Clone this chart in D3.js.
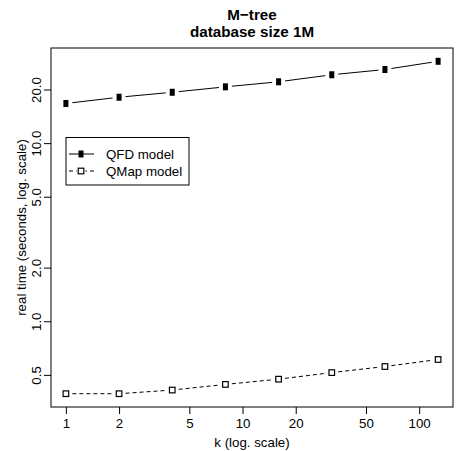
<!DOCTYPE html>
<html><head><meta charset="utf-8">
<script src="https://cdn.jsdelivr.net/npm/d3@7"></script>
<style>
html,body{margin:0;padding:0;background:#fff;}
svg{display:block;font-family:"Liberation Sans",Arial,Helvetica,sans-serif;}
</style></head>
<body>
<svg id="chart" width="459" height="451"></svg>
<script>
const kValues = [1, 2, 4, 8, 16, 32, 64, 128];
const qfdValues = [16.7, 18.1, 19.3, 20.7, 22.1, 24.2, 25.9, 28.8];
const qmapValues = [0.392, 0.392, 0.411, 0.442, 0.473, 0.515, 0.557, 0.610];
const xTicks = [1, 2, 5, 10, 20, 50, 100];
const yTicks = [0.5, 1, 2, 5, 10, 20];
const yTickLabels = ["0.5", "1.0", "2.0", "5.0", "10.0", "20.0"];
const seriesNames = ["QFD model", "QMap model"];
const titleLines = ["M\u2212tree", "database size 1M"];
const xTitle = "k (log. scale)";
const yTitle = "real time (seconds, log. scale)";

const svg = d3.select("#chart");
const L = 51, R = 453, T = 48, B = 407;
const FS = 13.3;

function extLog(lo, hi) {
  const a = Math.log10(lo), b = Math.log10(hi), d = (b - a) * 0.04;
  return [Math.pow(10, a - d), Math.pow(10, b + d)];
}
const x = d3.scaleLog().domain(extLog(d3.min(kValues), d3.max(kValues))).range([L, R]);
const allY = qfdValues.concat(qmapValues);
const y = d3.scaleLog().domain(extLog(d3.min(allY), d3.max(allY))).range([B, T]);

// box
svg.append("rect").attr("x", L).attr("y", T).attr("width", R - L).attr("height", B - T)
  .attr("fill", "none").attr("stroke", "#000").attr("stroke-width", 1);

// x axis
const xAxis = d3.axisBottom(x).tickValues(xTicks).tickFormat(d3.format("d")).tickSize(7);
const gx = svg.append("g").attr("transform", `translate(0,${B})`).call(xAxis);
gx.select(".domain").remove();
gx.selectAll("text").attr("font-size", FS).attr("fill", "#000").attr("font-family", "Liberation Sans, Arial, sans-serif")
  .attr("y", 20.5).attr("dy", null);
gx.selectAll("line").attr("stroke", "#000");

// y axis
const yAxis = d3.axisLeft(y).tickValues(yTicks).tickFormat((d, i) => yTickLabels[i]).tickSize(7);
const gy = svg.append("g").attr("transform", `translate(${L},0)`).call(yAxis);
gy.select(".domain").remove();
gy.selectAll("line").attr("stroke", "#000");
gy.selectAll("text")
  .attr("font-size", FS).attr("fill", "#000").attr("font-family", "Liberation Sans, Arial, sans-serif")
  .attr("x", null).attr("dy", null)
  .attr("text-anchor", "middle")
  .attr("transform", "translate(-10.5,0) rotate(-90)");

// titles
svg.append("g").selectAll("text").data(titleLines).join("text")
  .attr("x", (L + R) / 2).attr("y", (d, i) => 19.5 + i * 17.5)
  .attr("text-anchor", "middle").attr("font-weight", "bold").attr("font-size", 15.2)
  .text(d => d);
svg.append("text").attr("x", (L + R) / 2).attr("y", 446.5).attr("text-anchor", "middle")
  .attr("font-size", FS).text(xTitle);
svg.append("text").attr("transform", `translate(26,${(T + B) / 2}) rotate(-90)`)
  .attr("text-anchor", "middle").attr("font-size", FS).text(yTitle);

// series with R type="b" style gaps
function drawSeries(vals, dash) {
  const pts = kValues.map((k, i) => [x(k), y(vals[i])]);
  const gap = 6.5;
  const segs = [];
  for (let i = 0; i < pts.length - 1; i++) {
    const [x1, y1] = pts[i], [x2, y2] = pts[i + 1];
    const len = Math.hypot(x2 - x1, y2 - y1);
    if (len <= 2 * gap) continue;
    const ux = (x2 - x1) / len, uy = (y2 - y1) / len;
    segs.push([x1 + ux * gap, y1 + uy * gap, x2 - ux * gap, y2 - uy * gap]);
  }
  svg.append("g").selectAll("line").data(segs).join("line")
    .attr("x1", d => d[0]).attr("y1", d => d[1]).attr("x2", d => d[2]).attr("y2", d => d[3])
    .attr("stroke", "#000").attr("stroke-width", 1)
    .attr("stroke-dasharray", dash);
  return pts;
}
function filledSq(g, cx, cy) {
  g.append("rect").attr("x", cx - 2.5).attr("y", cy - 3.5).attr("width", 5).attr("height", 7).attr("fill", "#000");
}
function openSq(g, cx, cy) {
  g.append("rect").attr("x", cx - 2.8).attr("y", cy - 2.8).attr("width", 5.6).attr("height", 5.6)
    .attr("fill", "#fff").attr("stroke", "#000").attr("stroke-width", 1.2);
}
const p1 = drawSeries(qfdValues, null);
const p2 = drawSeries(qmapValues, "4,3");
const g1 = svg.append("g"); p1.forEach(p => filledSq(g1, p[0], p[1]));
const g2 = svg.append("g"); p2.forEach(p => openSq(g2, p[0], p[1]));

// legend
const lg = svg.append("g");
lg.append("rect").attr("x", 66).attr("y", 137.5).attr("width", 123).attr("height", 47.5)
  .attr("fill", "#fff").attr("stroke", "#000").attr("stroke-width", 1);
const rows = [154, 171];
lg.append("line").attr("x1", 69).attr("x2", 94).attr("y1", rows[0]).attr("y2", rows[0]).attr("stroke", "#000");
filledSq(lg, 81, rows[0]);
lg.append("line").attr("x1", 69).attr("x2", 94).attr("y1", rows[1]).attr("y2", rows[1]).attr("stroke", "#000")
  .attr("stroke-dasharray", "4,3").attr("stroke-dashoffset", 0);
lg.append("rect").attr("x", 76.5).attr("y", rows[1] - 4.5).attr("width", 9).attr("height", 9).attr("fill", "#fff");
openSq(lg, 81, rows[1]);
lg.selectAll("text.lab").data(seriesNames).join("text").attr("class", "lab")
  .attr("x", 106).attr("y", (d, i) => rows[i]).attr("dy", "0.35em")
  .attr("font-size", FS).text(d => d);
</script>
</body></html>
